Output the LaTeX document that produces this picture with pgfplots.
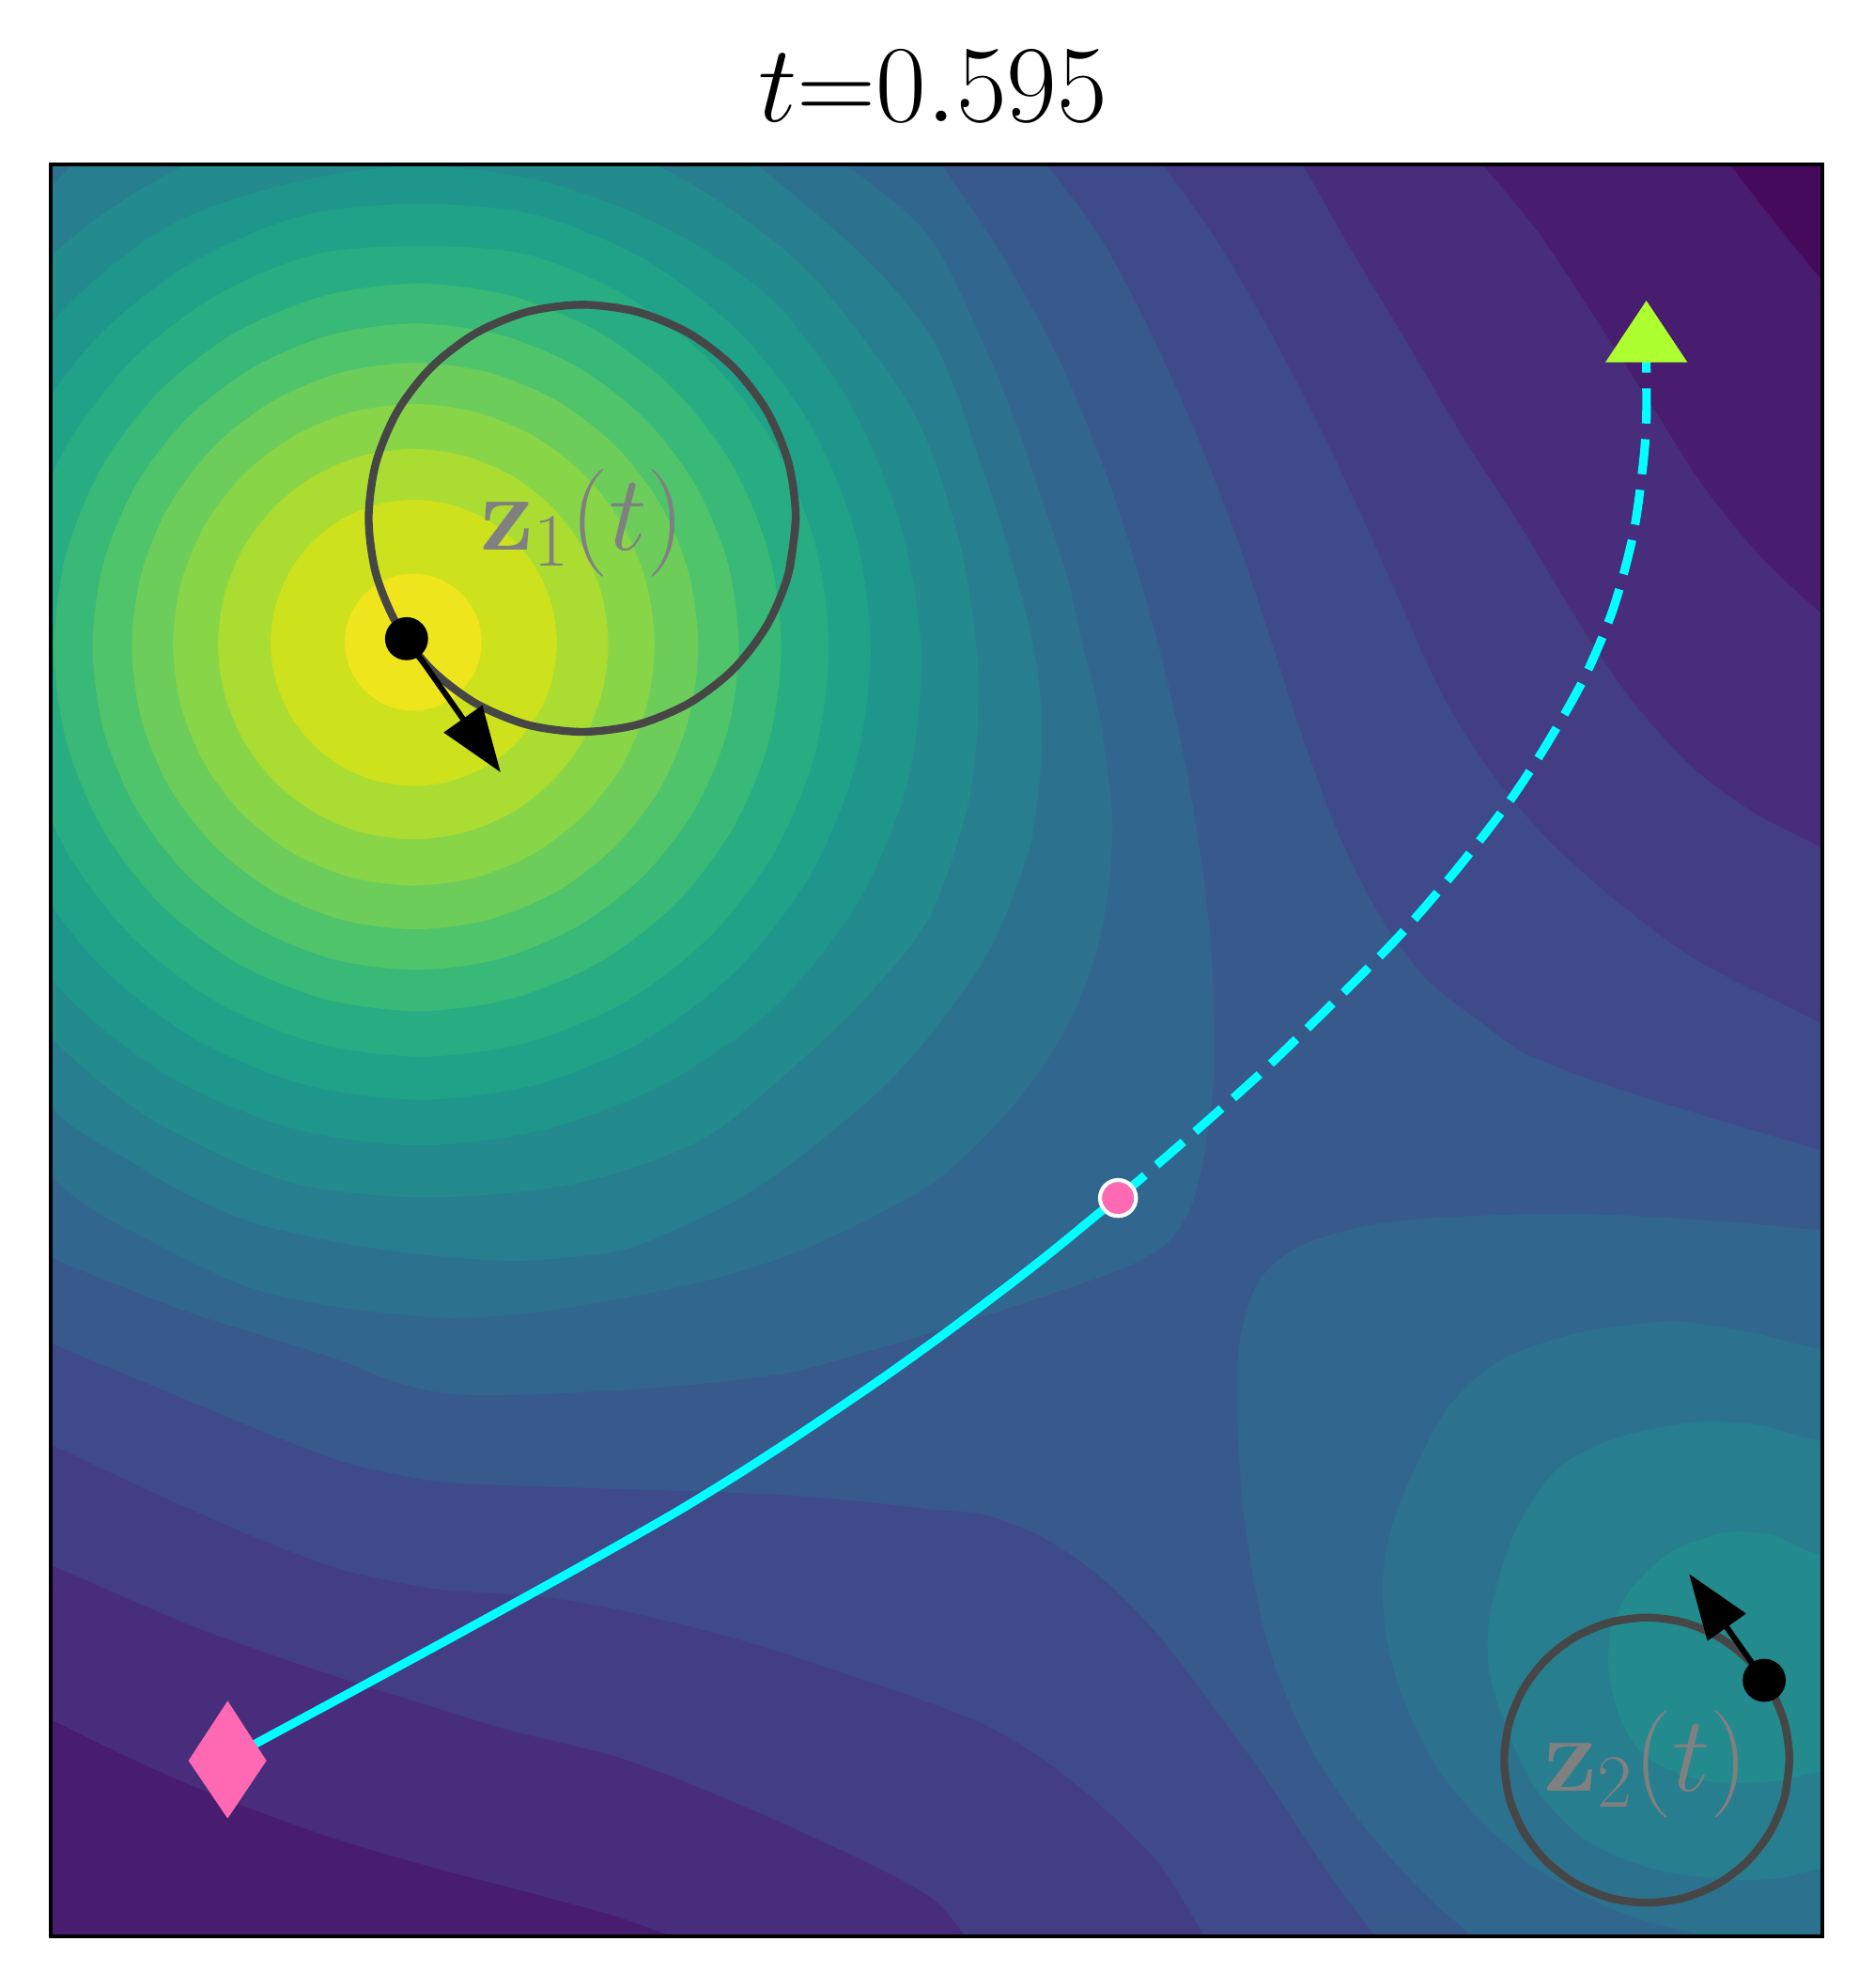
\RequirePackage{fix-cm}
\documentclass[border=0pt]{standalone}
\usepackage{pgfplots}
\pgfplotsset{compat=1.18}
\usetikzlibrary{arrows.meta}
\definecolor{c0}{HTML}{460A5D}
\definecolor{c1}{HTML}{481C6E}
\definecolor{c2}{HTML}{472D7B}
\definecolor{c3}{HTML}{433D84}
\definecolor{c4}{HTML}{3E4A89}
\definecolor{c5}{HTML}{38598C}
\definecolor{c6}{HTML}{31668E}
\definecolor{c7}{HTML}{2C728E}
\definecolor{c8}{HTML}{277E8E}
\definecolor{c9}{HTML}{238A8D}
\definecolor{c10}{HTML}{1F968B}
\definecolor{c11}{HTML}{1FA287}
\definecolor{c12}{HTML}{27AD81}
\definecolor{c13}{HTML}{38B977}
\definecolor{c14}{HTML}{50C46A}
\definecolor{c15}{HTML}{6CCD5A}
\definecolor{c16}{HTML}{89D548}
\definecolor{c17}{HTML}{AADC32}
\definecolor{c18}{HTML}{CDE11D}
\definecolor{c19}{HTML}{EFE51C}
\definecolor{hotpink}{HTML}{FF69B4}
\definecolor{greenyellow}{HTML}{ADFF2F}
\definecolor{cyanline}{HTML}{00FFFF}
\definecolor{ringgray}{HTML}{464646}
\definecolor{labelgray}{HTML}{808080}
\pgfplotsset{band/.style={draw=none, fill=#1, smooth}}
\begin{document}
\begin{tikzpicture}
\useasboundingbox (-12.96pt,-13.2pt) rectangle (465.6pt,494.64pt);
\begin{axis}[at={(0,0)}, anchor=south west, scale only axis,
  width=452.64pt, height=452.64pt,
  xmin=40, xmax=1438, ymin=130, ymax=1528, y dir=reverse,
  xtick=\empty, ytick=\empty, axis on top,
  axis line style={line width=0.9pt, black},
  axis background/.style={fill=c5}]
% ---- top-right corner (lower levels)
\addplot[band=c4] coordinates {(1620,0) (1300,-40) (1000,-30) (740,10) (797,90) (826,130) (868.7,188) (909,264.5) (945,345) (976.5,426) (1003.5,507) (1030,588) (1057,660) (1089,723) (1125,772) (1165,804) (1205,832) (1270,857) (1350,882) (1438,908) (1520,932) (1600,955) (1660,700) (1660,300) (1620,0) (1300,-40) (1000,-30)};
\addplot[band=c3] coordinates {(1620,0) (1300,-40) (1050,-30) (855,40) (890,90) (918,130) (959,188) (999,256) (1039,332) (1075,408) (1107,480) (1138,548) (1174,606) (1219,660) (1273,709) (1341,759) (1438,808) (1510,845) (1600,890) (1660,650) (1660,300) (1620,0) (1300,-40) (1050,-30)};
\addplot[band=c2] coordinates {(1640,100) (1500,-40) (1200,-40) (980,40) (1005,90) (1028,130) (1066,197) (1107,265) (1152,341) (1201,417) (1242,485) (1287,552) (1336,606) (1385,642) (1438,669) (1500,700) (1580,740) (1650,500) (1640,100) (1500,-40) (1200,-40)};
\addplot[band=c1] coordinates {(1620,50) (1450,-40) (1250,-30) (1100,45) (1138,90) (1170,130) (1215,185) (1258,250) (1300,315) (1345,385) (1390,440) (1438,485) (1490,530) (1560,590) (1650,400) (1620,50) (1450,-40) (1250,-30)};
\addplot[band=c0] coordinates {(1600,150) (1550,10) (1420,-20) (1300,45) (1335,90) (1365,130) (1400,175) (1438,222) (1470,262) (1520,320) (1600,150) (1550,10) (1420,-20)};
% ---- bottom-left corner (lower levels)
\addplot[band=c4] coordinates {(800,1660) (300,1660) (-60,1620) (-100,1300) (-40,1025) (0,1042) (40,1060) (97,1084) (153.5,1107.5) (210,1131) (267,1152.6) (310,1163) (352,1170) (420,1173) (485,1175) (550,1177) (620,1180) (680,1185) (733.9,1191) (778.8,1196) (823.8,1214) (868.7,1245) (913.6,1290) (958.6,1348.5) (1003.5,1411) (1048.4,1479) (1084.4,1527) (1110,1565) (1135,1610) (800,1660) (300,1660) (-60,1620)};
\addplot[band=c3] coordinates {(700,1660) (200,1660) (-60,1620) (-100,1300) (-40,1105) (0,1122) (40,1140) (97,1167) (153.5,1192.7) (210,1217) (267,1238) (310,1248) (352,1255) (427,1260) (485,1270) (550,1285) (610,1302) (670,1322) (733.9,1344) (778.8,1362) (823.8,1389) (868.7,1425) (913.6,1470) (949.6,1527) (970,1565) (990,1610) (700,1660) (200,1660) (-60,1620)};
\addplot[band=c2] coordinates {(600,1660) (100,1660) (-60,1620) (-100,1350) (-40,1200) (0,1218) (40,1235) (97,1260) (153.5,1284) (220,1308) (289.7,1331) (345,1348) (400,1365) (485,1386) (550,1410) (620,1440) (680,1468) (733.9,1497) (760.9,1527) (780,1560) (800,1610) (600,1660) (100,1660) (-60,1620)};
\addplot[band=c1] coordinates {(400,1660) (0,1660) (-80,1500) (-40,1322) (0,1340) (40,1357) (95,1384) (148.7,1408) (210,1432) (255,1448) (300,1462) (350,1476) (400,1489) (445,1501) (485,1512) (530,1528) (590,1550) (650,1575) (400,1660) (0,1660) (-80,1500)};
% ---- level 6
\addplot[band=c6] coordinates {(-120,200) (0,40) (250,-20) (500,-20) (690,50) (743,130) (787.8,197) (832.8,278) (868.7,363) (895.7,444) (918,525) (936,606) (949.6,691) (956.3,759) (958.6,834) (956,870) (950,913) (940,952) (922,980) (891,999) (842,1017) (779,1038) (734,1052) (680,1068) (624,1083) (555,1092) (489,1097) (420,1100.5) (355,1100) (310,1090) (267,1073) (210,1055) (153,1037) (95,1015) (40,992) (-60,940) (-130,760) (-160,500) (-120,200) (0,40) (250,-20)};
\addplot[band=c6] coordinates {(1580,1600) (1600,1250) (1520,975) (1438,971) (1385,966) (1330,962) (1280,959) (1228,958) (1175,959) (1120,962) (1080,967) (1048,975) (1025,984) (1008,995) (994,1010) (985,1030) (978,1060) (976,1092) (977,1137) (980,1182) (986,1227) (994,1272) (1005,1312) (1020,1350) (1038,1386) (1060,1420) (1085,1452) (1110,1480) (1135,1505) (1160,1528) (1195,1580) (1400,1640) (1580,1600) (1600,1250) (1520,975)};
% ---- level 7
\addplot[band=c7] coordinates {(-105.3,766.5) (-173,514) (-105.3,261.5) (81,79.3) (332,14) (584.5,76.7) (667,130) (733.9,188) (778.8,278) (803,338) (823.8,399) (842,455) (855,512) (866,557) (873,601) (877.7,646) (876.5,680) (873,714) (866,748) (855,781) (843,808) (828,834) (811,858) (792,881) (765,909) (734,935) (680,965) (624,990) (560,1010) (489,1025) (420,1036) (352,1040) (270,1032) (197.4,1016.3) (120,980) (41.2,929.3) (-105.3,766.5) (-173,514) (-105.3,261.5)};
\addplot[band=c7] coordinates {(1560,1580) (1600,1300) (1520,1075) (1438,1065) (1380,1051) (1318,1043) (1245,1052) (1183,1074) (1143,1110) (1116,1160) (1098,1205) (1091,1250) (1095,1297) (1107,1340) (1130,1388) (1161,1429) (1202,1467) (1251,1497) (1298,1516) (1345,1528) (1430,1560) (1560,1580) (1600,1300) (1520,1075)};
% ---- level 8
\addplot[band=c8] coordinates {(-70.7,746.5) (-136,514) (-75,279) (40,148) (94,101.8) (210,58) (332,44) (452,60) (566,108.7) (652,176) (700,222) (733.9,264.5) (754,308) (769.8,354.4) (787,404) (801.3,453.2) (812,494) (819.3,534) (822,568) (821.5,601.5) (818,636) (812.5,669) (801,703) (787.8,736.3) (775,760) (760.9,781.2) (733.9,817) (700,855) (660,890) (622,920) (582,947) (536,969) (489,987) (410,995) (332,990) (265,980) (200,965) (148,943) (100.5,915) (40,874) (-70.7,746.5) (-136,514) (-75,279)};
\addplot[band=c8] coordinates {(1520,1460) (1580,1300) (1520,1140) (1438,1137) (1390,1125) (1340,1122) (1275,1135) (1228,1160) (1195,1210) (1176,1272) (1175,1318) (1188,1362) (1212,1412) (1251,1452) (1305,1475) (1363,1483) (1405,1482) (1438,1474) (1520,1460) (1580,1300) (1520,1140)};
% ---- level 9
\addplot[band=c9] coordinates {(-37,727) (-94,514) (-37,301) (40,203) (119,145) (220,100) (332,88) (440,100) (545,145) (634.6,211.4) (704.4,299) (733.9,354) (760,440) (772,534) (765,630) (733.9,723) (690,780) (640,830) (554.5,899) (450,935) (332,945) (225,932) (119,883) (40,819) (-37,727) (-94,514) (-37,301)};
\addplot[band=c9] coordinates {(1510,1395) (1550,1310) (1510,1230) (1438,1227) (1400,1212) (1363,1209) (1318,1225) (1287,1254) (1272,1284) (1269,1317) (1278,1355) (1296,1384) (1328,1401) (1363,1407) (1405,1405) (1438,1398) (1510,1395) (1550,1310) (1510,1230)};
% ---- levels 10 - 19 (around z1)
\addplot[band=c10] coordinates {(727,514) (716.4,617) (676.7,713) (611,795) (528,853.5) (432.9,890.7) (332,904) (231.1,890.7) (137,851.7) (56.2,789.8) (-5.7,709) (-44.7,614.9) (-58,514) (-44.7,413.1) (-5.7,319) (56.2,238.2) (137,176.3) (232.9,144) (332,131) (431.1,144) (525,179.7) (609.2,236.8) (670.6,318.5) (710,412.5) (727,514) (716.4,617) (676.7,713)};
\addplot[band=c11] coordinates {(687,513) (674.9,604.9) (639.4,690.5) (583,764) (509.5,820.4) (423.9,855.9) (332,868) (240.1,855.9) (154.5,820.4) (81,764) (24.6,690.5) (-10.9,604.9) (-23,513) (-10.9,421.1) (24.6,335.5) (81,262) (154.5,205.6) (240.1,170.1) (332,161) (423.9,170.1) (509.5,205.6) (583,262) (639.4,335.5) (674.9,421.1) (687,513) (674.9,604.9) (639.4,690.5)};
\addplot[band=c12] coordinates {(654,512) (643,595.3) (610.9,673) (559.7,739.7) (493,790.9) (415.3,823) (332,834) (248.7,823) (171,790.9) (104.3,739.7) (53.1,673) (21,595.3) (10,512) (21,428.7) (53.1,351) (104.3,284.3) (171,233.1) (248.7,201) (332,194.5) (415.3,201) (493,233.1) (559.7,284.3) (610.9,351) (643,428.7) (654,512) (643,595.3) (610.9,673)};
\addplot[band=c13] coordinates {(616.5,511) (606.7,585.3) (578,654.5) (532.4,713.9) (473,759.5) (403.8,788.2) (329.5,798) (255.2,788.2) (186,759.5) (126.6,713.9) (81,654.5) (52.3,585.3) (42.5,511) (52.3,436.7) (81,367.5) (126.6,308.1) (186,262.5) (255.2,233.8) (329.5,224) (403.8,233.8) (473,262.5) (532.4,308.1) (578,367.5) (606.7,436.7) (616.5,511) (606.7,585.3) (578,654.5)};
\addplot[band=c14] coordinates {(583,510.5) (574.3,576.5) (548.8,638) (508.3,690.8) (455.5,731.3) (394,756.8) (328,765.5) (262,756.8) (200.5,731.3) (147.7,690.8) (107.2,638) (81.7,576.5) (73,510.5) (81.7,444.5) (107.2,383) (147.7,330.2) (200.5,289.7) (262,264.2) (328,255.5) (394,264.2) (455.5,289.7) (508.3,330.2) (548.8,383) (574.3,444.5) (583,510.5) (574.3,576.5) (548.8,638)};
\addplot[band=c15] coordinates {(551,510) (543.4,567.8) (521.1,621.8) (485.5,668) (439.3,703.6) (385.3,725.9) (327.5,733.5) (269.7,725.9) (215.8,703.6) (169.5,668) (133.9,621.8) (111.6,567.8) (104,510) (111.6,452.2) (133.9,398.3) (169.5,352) (215.8,316.4) (269.7,294.1) (327.5,286.5) (385.3,294.1) (439.3,316.4) (485.5,352) (521.1,398.3) (543.4,452.2) (551,510) (543.4,567.8) (521.1,621.8)};
\addplot[band=c16] coordinates {(516.5,509) (510,558.2) (491,604) (460.8,643.3) (421.5,673.5) (375.7,692.5) (326.5,699) (277.3,692.5) (231.5,673.5) (192.2,643.3) (162,604) (143,558.2) (136.5,509) (143,459.8) (162,414) (192.2,374.7) (231.5,344.5) (277.3,325.5) (326.5,319) (375.7,325.5) (421.5,344.5) (460.8,374.7) (491,414) (510,459.8) (516.5,509) (510,558.2) (491,604)};
\addplot[band=c17] coordinates {(480,508.5) (474.7,548.4) (459.4,585.5) (434.9,617.4) (403,641.9) (365.9,657.2) (326,662.5) (286.1,657.2) (249,641.9) (217.1,617.4) (192.6,585.5) (177.3,548.4) (172,508.5) (177.3,468.6) (192.6,431.5) (217.1,399.6) (249,375.1) (286.1,359.8) (326,354.5) (365.9,359.8) (403,375.1) (434.9,399.6) (459.4,431.5) (474.7,468.6) (480,508.5) (474.7,548.4) (459.4,585.5)};
\addplot[band=c18] coordinates {(439.5,507.5) (435.6,536.7) (424.4,564) (406.4,587.4) (383,605.4) (355.7,616.6) (326.5,620.5) (297.3,616.6) (270,605.4) (246.6,587.4) (228.6,564) (217.4,536.7) (213.5,507.5) (217.4,478.3) (228.6,451) (246.6,427.6) (270,409.6) (297.3,398.4) (326.5,394.5) (355.7,398.4) (383,409.6) (406.4,427.6) (424.4,451) (435.6,478.3) (439.5,507.5) (435.6,536.7) (424.4,564)};
\addplot[band=c19] coordinates {(380,507) (378.2,521) (372.8,534) (364.2,545.2) (353,553.8) (340,559.2) (326,561) (312,559.2) (299,553.8) (287.8,545.2) (279.2,534) (273.8,521) (272,507) (273.8,493) (279.2,480) (287.8,468.8) (299,460.2) (312,454.8) (326,453) (340,454.8) (353,460.2) (364.2,468.8) (372.8,480) (378.2,493) (380,507) (378.2,521) (372.8,534)};
% ---- trajectory
\addplot[cyanline, line width=2.2pt, smooth] coordinates {(179.6,1388.4) (201.7,1376) (255,1347.2) (310,1317.5) (366,1287) (422,1256.2) (478,1225) (534,1193) (579,1165.5) (624,1136.5) (662,1111) (700,1085) (744,1053.5) (772,1032.5) (801,1010.5) (826,991) (850,971.5) (866,958.3) (882.2,945.5)};
\addplot[cyanline, line width=2.2pt, smooth, dash pattern=on 9pt off 4pt] coordinates {(882.2,945.5) (902.4,928.4) (950,887) (997,845) (1050,793.5) (1102,741) (1148,688) (1191,632.6) (1222,585) (1250.6,534.1) (1273.1,480.2) (1288.8,421.7) (1296.4,367.8) (1299.1,331.9) (1299.1,287) (1299.1,262)};
% ---- circles of the centres
\addplot[ringgray, line width=2pt, smooth] coordinates {(627.9,409.2) (622.2,452.8) (605.3,493.5) (578.6,528.4) (543.7,555.1) (503.0,572.0) (459.4,577.7) (415.8,572.0) (375.2,555.1) (340.3,528.4) (313.5,493.5) (296.6,452.8) (290.9,409.2) (296.6,365.6) (313.5,324.9) (340.3,290.1) (375.2,263.3) (415.8,246.4) (459.4,240.7) (503.0,246.4) (543.7,263.3) (578.6,290.1) (605.3,324.9) (622.2,365.6) (627.9,409.2) (622.2,452.8)};
\addplot[ringgray, line width=2pt, smooth] coordinates {(1412.0,1389) (1408.2,1418.1) (1396.9,1445.3) (1379.1,1468.6) (1355.8,1486.4) (1328.6,1497.7) (1299.5,1501.5) (1270.4,1497.7) (1243.3,1486.4) (1220.0,1468.6) (1202.1,1445.3) (1190.8,1418.1) (1187.0,1389) (1190.8,1359.9) (1202.1,1332.8) (1220.0,1309.5) (1243.3,1291.6) (1270.4,1280.3) (1299.5,1276.5) (1328.6,1280.3) (1355.8,1291.6) (1379.1,1309.5) (1396.9,1332.8) (1408.2,1359.9) (1412.0,1389) (1408.2,1418.1)};
% ---- labels
\node[text=labelgray, font=\fontsize{27.5}{32}\selectfont, inner sep=0pt, anchor=center] at (axis cs:460,412.8) {$\mathbf{z}_1(t)$};
\node[text=labelgray, font=\fontsize{27.5}{32}\selectfont, inner sep=0pt, anchor=center] at (axis cs:1299,1392.3) {$\mathbf{z}_2(t)$};
% ---- velocity arrows and points
\addplot[black, line width=1.45pt, -{Triangle[length=16.7pt, width=11.7pt]}] coordinates {(320.8,504.2) (395,609.6)};
\addplot[black, line width=1.45pt, -{Triangle[length=16.7pt, width=11.7pt]}] coordinates {(1392.1,1326) (1332.8,1242)};
\addplot[only marks, mark=*, mark size=5.3pt, black] coordinates {(320.8,504.2) (1392.1,1326)};
% ---- markers
\addplot[draw=none, fill=hotpink] coordinates {(179.6,1342.2) (210.2,1389.4) (179.6,1435) (148.7,1389.4)};
\addplot[draw=none, fill=greenyellow] coordinates {(1299.1,237.5) (1331.5,286.1) (1266.8,286.1)};
\addplot[only marks, mark=*, mark size=4.6pt, mark options={fill=hotpink, draw=white, line width=1pt}] coordinates {(882.2,945.5)};
\end{axis}
\node[anchor=base, font=\fontsize{28}{33}\selectfont, inner sep=0pt] at (225.4pt,463.64pt) {$t{=}0.595$};
\end{tikzpicture}
\end{document}
